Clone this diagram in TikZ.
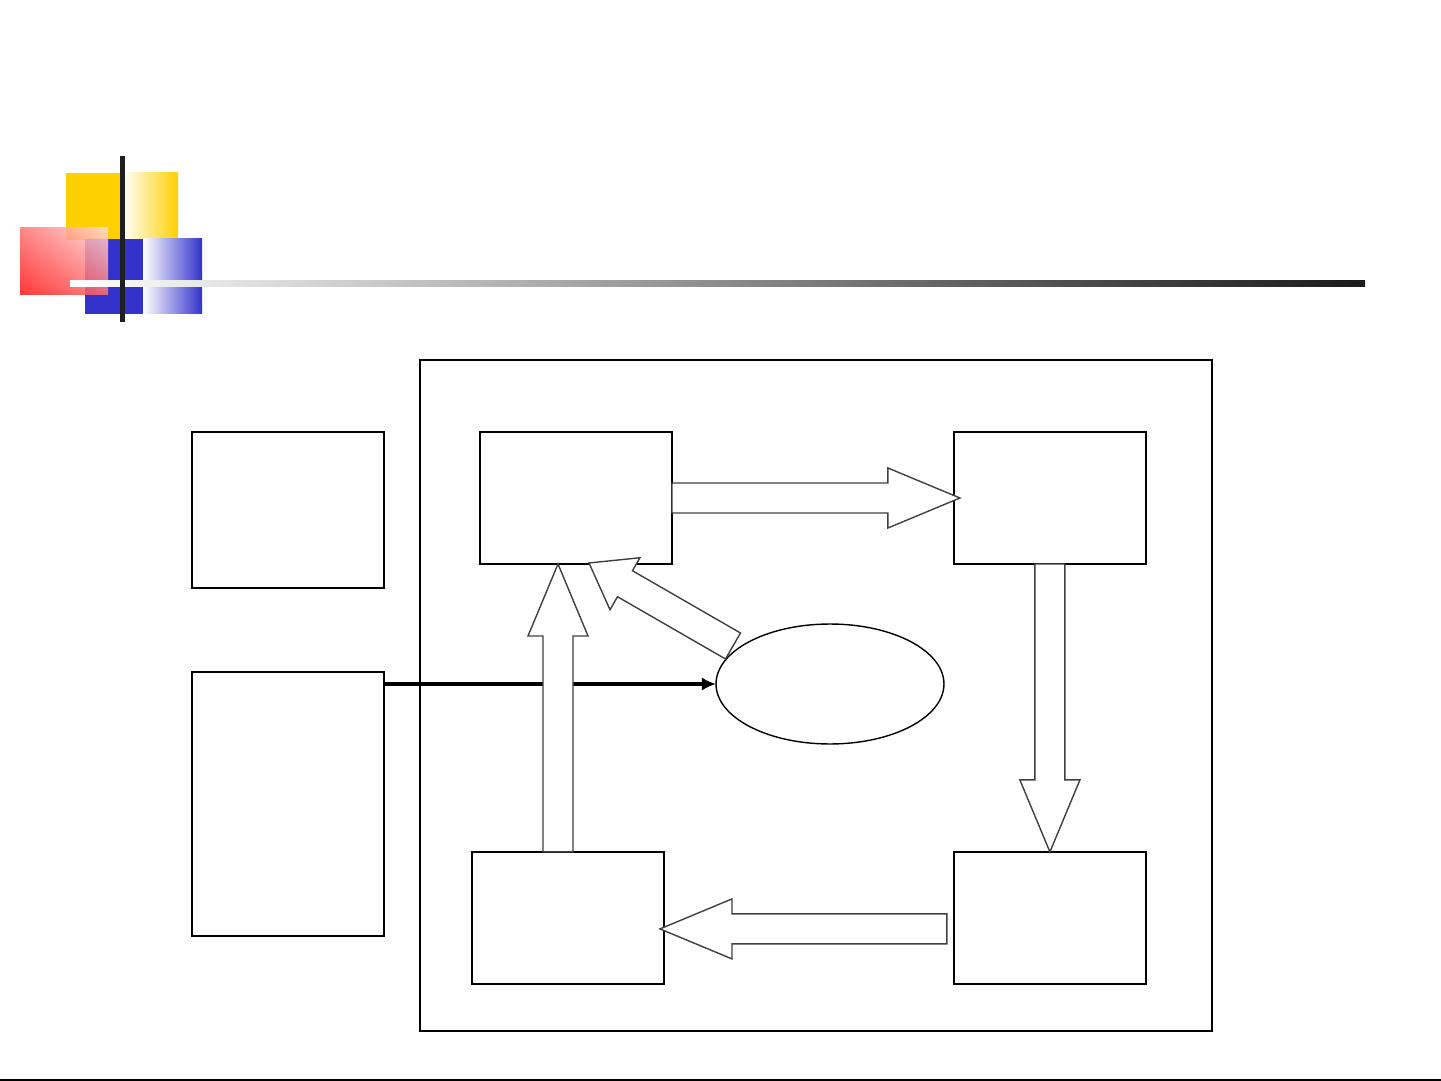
\documentclass[tikz,border=0pt]{standalone}
\usetikzlibrary{positioning,calc,arrows.meta,shapes.geometric,shadings}
\definecolor{decoyellow}{HTML}{FFD000}
\definecolor{decoblue}{HTML}{3333CC}
\definecolor{decored}{HTML}{FF1414}
\tikzset{
  box/.style={draw, line width=1.2pt, minimum width=3.84cm, minimum height=2.64cm, inner sep=0pt, outer sep=0pt},
  fat/.style={draw=black!75, fill=white, line width=0.8pt, line join=miter},
}
% block arrow from #2 to #3, #1 = head length
\newcommand{\fatarrow}[3][1.44cm]{%
  \draw[fat] let \p1=($(#3)-(#2)$), \n1={veclen(\x1,\y1)}, \n2={atan2(\y1,\x1)} in
    ($(#2)+(\n2+90:0.3cm)$) -- ($(#2)+(\n2:\n1-#1)+(\n2+90:0.3cm)$)
    -- ($(#2)+(\n2:\n1-#1)+(\n2+90:0.6cm)$) -- (#3)
    -- ($(#2)+(\n2:\n1-#1)+(\n2-90:0.6cm)$) -- ($(#2)+(\n2:\n1-#1)+(\n2-90:0.3cm)$)
    -- ($(#2)+(\n2-90:0.3cm)$) -- cycle;}
\begin{document}
\begin{tikzpicture}[x=0.02cm, y=-0.02cm]
	\useasboundingbox (0,0) rectangle (1441,1081);

	% corner decoration
	\fill[decoyellow] (66,173) rectangle (122,240);
	\shade[left color=white, right color=decoyellow] (122,173) rectangle (178,240);
	\fill[decoblue] (85,239) rectangle (143,314);
	\shade[left color=white, right color=decoblue] (143,239) rectangle (202,314);
	\shade[opacity=0.85, lower left=decored, upper right=decored!15, upper left=decored!60, lower right=decored!60] (20,228) rectangle (108,295);
	\shade[left color=white, right color=black!90] (70,281) rectangle (1365,287);
	\fill[black!88] (120,156) rectangle (125,322);
	\draw[line width=0.8pt] (0,1080) -- (1441,1080);

	% boxes
	\node (frame) [box, minimum width=15.84cm, minimum height=13.42cm] at (816,695.5) {};
	\node (lt) [box, minimum height=3.12cm] at (288,510) {};
	\node (lb) [box, minimum height=5.28cm, below=1.68cm of lt] {};
	\node (A) [box] at (576,498) {};
	\node (B) [box, right=5.64cm of A] {};
	\node (C) [box, below=5.76cm of B] {};
	\node (D) [box, left=5.8cm of C] {};
	\node (E) [ellipse, draw, line width=0.8pt, minimum width=4.56cm, minimum height=2.4cm, inner sep=0pt, outer sep=0pt] at (830,684) {};

	\draw[line width=2.2pt, -{Latex[length=8pt,width=7.5pt]}] (lb.east |- E.west) -- (E.west);

	\coordinate (abtip) at ($(B.west)+(6,0)$);
	\coordinate (cdtail) at ($(C.west)+(-7,11)$);
	\coordinate (cdtip) at ($(D.east)+(-4,11)$);
	\coordinate (datail) at ($(D.north)+(-10,0)$);
	\coordinate (datip) at ($(A.south)+(-18,0)$);
	\coordinate (eatail) at ($(E.center)+(-97,-38)$);
	\coordinate (eatip) at ($(A.south)+(13,-1)$);

	\fatarrow{A.east}{abtip}
	\fatarrow{B.south}{C.north}
	\fatarrow{cdtail}{cdtip}
	\fatarrow{datail}{datip}
	\fatarrow[0.83cm]{eatail}{eatip}
\end{tikzpicture}
\end{document}
